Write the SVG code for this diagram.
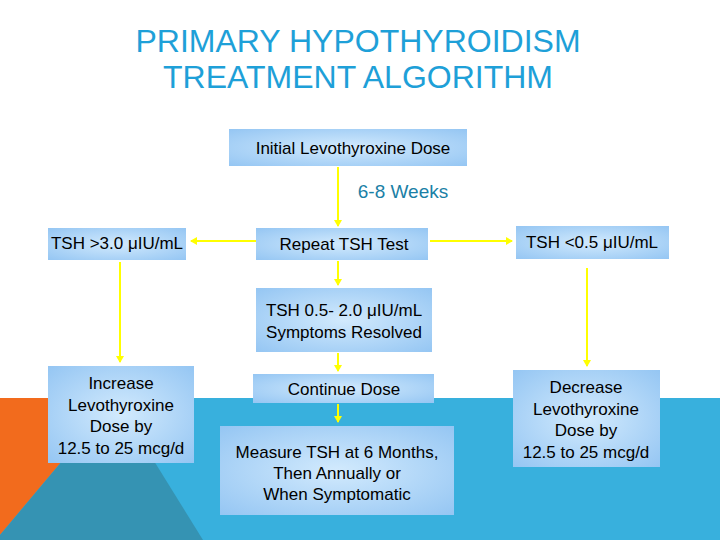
<svg xmlns="http://www.w3.org/2000/svg" width="720" height="540" viewBox="0 0 720 540">
<defs>
<radialGradient id="g" cx="0.5" cy="0.5" r="0.7">
<stop offset="0" stop-color="#d2eafd"/><stop offset="1" stop-color="#95c6f3"/>
</radialGradient>
<marker id="a" markerWidth="8" markerHeight="8" refX="6" refY="4" orient="auto" markerUnits="userSpaceOnUse"><path d="M0,0 L7,4 L0,8 z" fill="#ffff00"/></marker>
</defs>
<style>
.b{fill:url(#g);}
.t{font-family:"Liberation Sans",Arial,sans-serif;font-size:17px;fill:#000;text-anchor:middle;}
.c{stroke:#ffff00;stroke-width:2;fill:none;marker-end:url(#a);}
</style>
<rect width="720" height="540" fill="#fff"/>
<rect x="0" y="398" width="720" height="142" fill="#38b0dd"/>
<polygon points="0,398 115,398 0,535" fill="#f26b1d"/>
<polygon points="115,398 203,540 0,540 0,535" fill="#3593b3"/>
<g font-family="Liberation Sans,Arial,sans-serif" font-size="32" fill="#1ea0d8" text-anchor="middle">
<text x="358" y="52">PRIMARY HYPOTHYROIDISM</text>
<text x="358" y="88">TREATMENT ALGORITHM</text>
</g>
<g id="connectors">
<line class="c" x1="338" y1="167" x2="338" y2="226"/>
<line class="c" x1="256" y1="241" x2="191" y2="241"/>
<line class="c" x1="430" y1="241" x2="512" y2="241"/>
<line class="c" x1="338" y1="261" x2="338" y2="285"/>
<line class="c" x1="120" y1="262" x2="120" y2="362"/>
<line class="c" x1="587" y1="268" x2="587" y2="366"/>
<line class="c" x1="338" y1="353" x2="338" y2="371"/>
<line class="c" x1="338" y1="404" x2="338" y2="422"/>
<text x="403" y="198" font-family="Liberation Sans,Arial,sans-serif" font-size="19" fill="#1b7fa6" text-anchor="middle">6-8 Weeks</text>
</g>
<g id="n1"><rect class="b" x="229" y="129" width="238" height="37"/><text class="t" x="353" y="154">Initial Levothyroxine Dose</text></g>
<g id="n2"><rect class="b" x="48" y="228" width="138" height="32"/><text class="t" x="117" y="249">TSH &gt;3.0 μIU/mL</text></g>
<g id="n3"><rect class="b" x="256" y="228" width="172" height="32"/><text class="t" x="344" y="250">Repeat TSH Test</text></g>
<g id="n4"><rect class="b" x="516" y="226" width="153" height="33"/><text class="t" x="592" y="248">TSH &lt;0.5 μIU/mL</text></g>
<g id="n5"><rect class="b" x="256" y="288" width="176" height="64"/><text class="t" x="344" y="316">TSH 0.5- 2.0 μIU/mL</text><text class="t" x="344" y="338">Symptoms Resolved</text></g>
<g id="n6"><rect class="b" x="48" y="366" width="146" height="97"/><text class="t" x="121" y="389">Increase</text><text class="t" x="121" y="411">Levothyroxine</text><text class="t" x="121" y="432">Dose by</text><text class="t" x="121" y="454">12.5 to 25 mcg/d</text></g>
<g id="n7"><rect class="b" x="253" y="374" width="181" height="29"/><text class="t" x="344" y="395">Continue Dose</text></g>
<g id="n8"><rect class="b" x="513" y="370" width="147" height="97"/><text class="t" x="586" y="393">Decrease</text><text class="t" x="586" y="415">Levothyroxine</text><text class="t" x="586" y="436">Dose by</text><text class="t" x="586" y="458">12.5 to 25 mcg/d</text></g>
<g id="n9"><rect class="b" x="220" y="426" width="234" height="89"/><text class="t" x="337" y="458">Measure TSH at 6 Months,</text><text class="t" x="337" y="479">Then Annually or</text><text class="t" x="337" y="500">When Symptomatic</text></g>
</svg>
